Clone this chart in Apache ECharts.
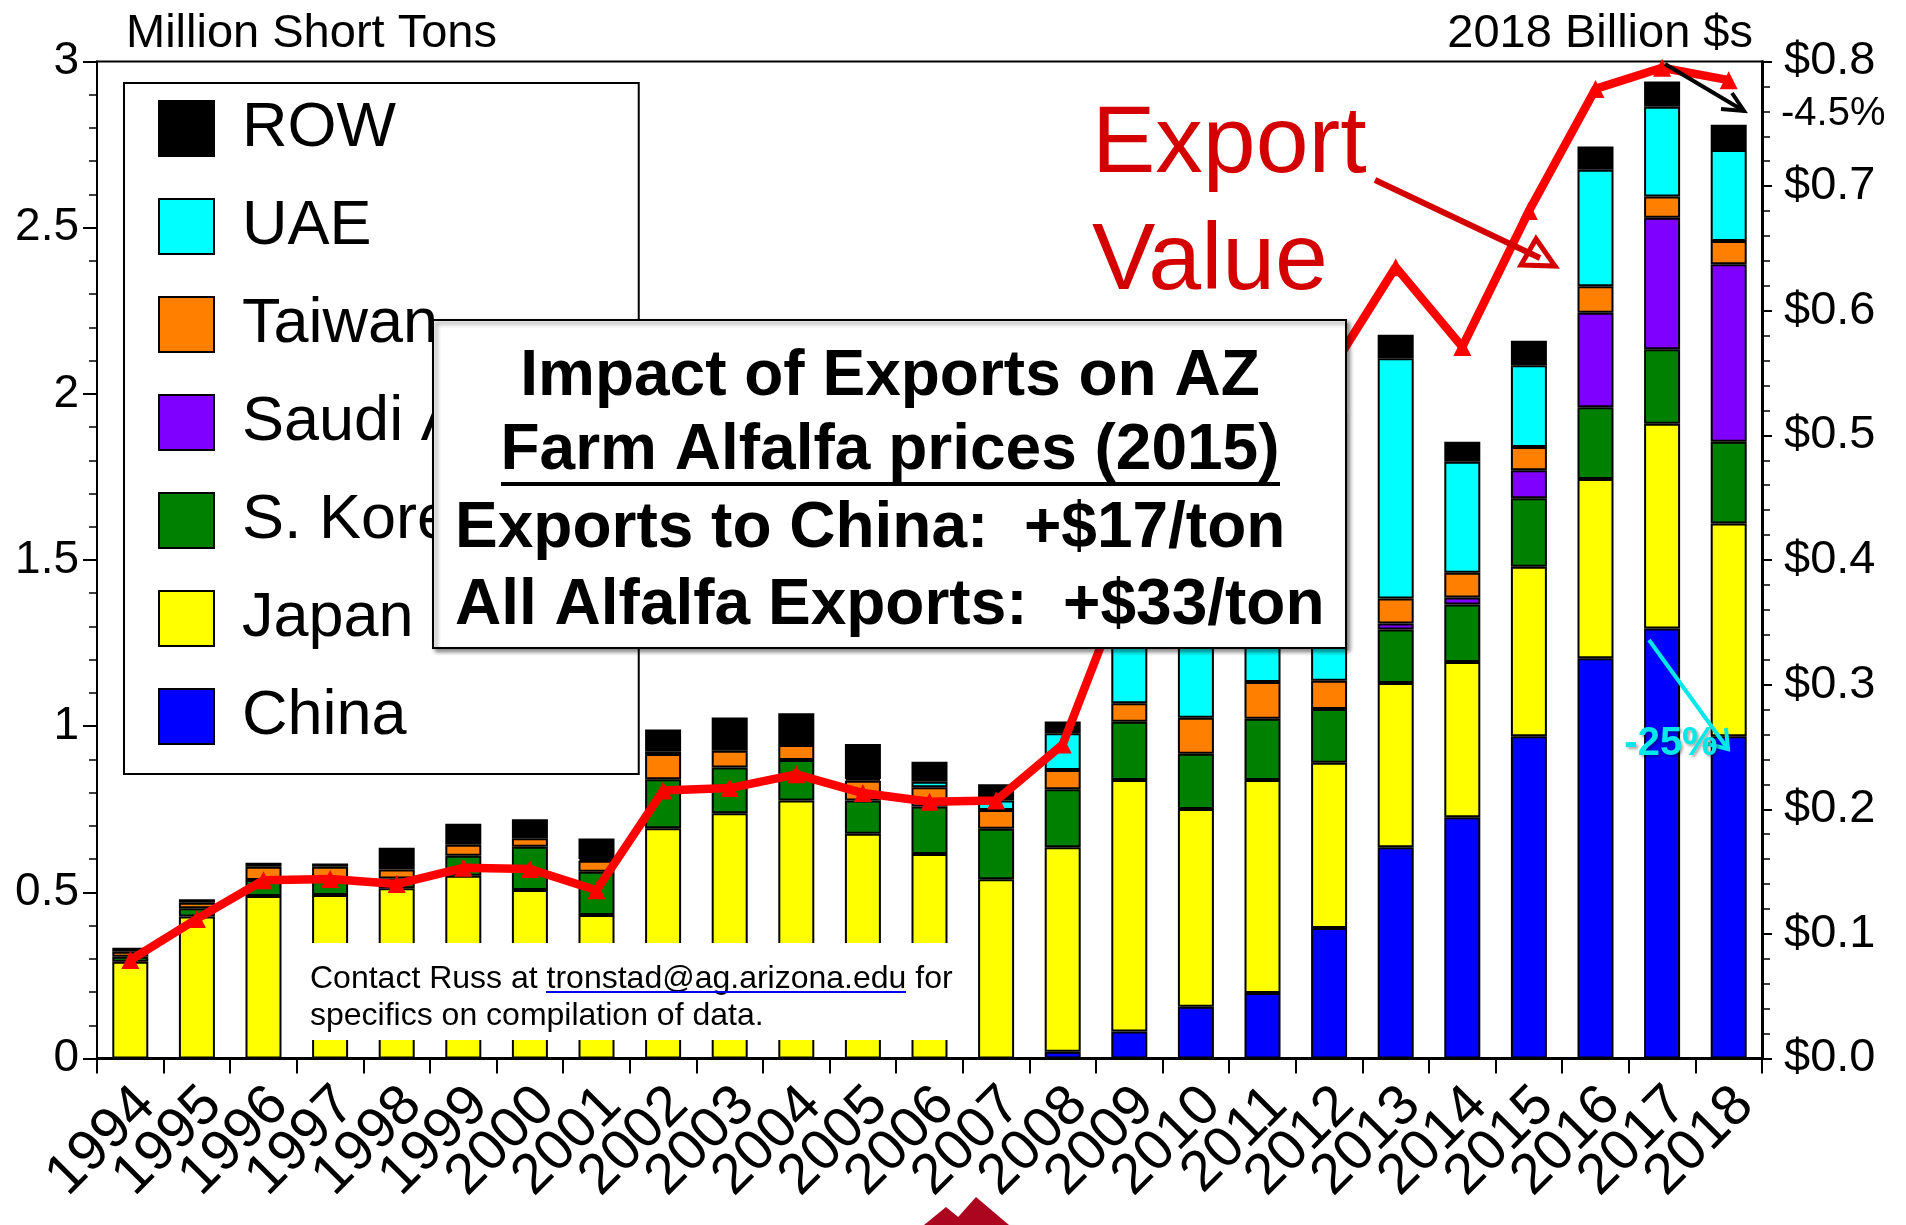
<!DOCTYPE html>
<html>
<head>
    <meta charset="utf-8">
    <script src="https://cdn.jsdelivr.net/npm/echarts@6/dist/echarts.min.js"></script>
    <style>
        body { margin: 0; background: #fff; }
    </style>
</head>
<body>
    <div id="main" style="width: 1906px;height:1225px"></div>

    <script type="text/javascript">
        // data (million short tons, stacked) + export value (2018 billion $)
        var years = ['1994','1995','1996','1997','1998','1999','2000','2001','2002','2003','2004','2005','2006',
                     '2007','2008','2009','2010','2011','2012','2013','2014','2015','2016','2017','2018'];
        var china  = [null,null,null,null,null,null,null,null,null,null,null,null,null,
                      null,0.02,0.081,0.156,0.197,0.393,0.636,0.726,0.97,1.204,1.294,0.97];
        var japan  = [0.291,0.427,0.489,0.492,0.512,0.55,0.507,0.432,0.693,0.738,0.776,0.676,0.615,
                      0.539,0.616,0.757,0.595,0.641,0.497,0.494,0.467,0.51,0.54,0.616,0.64];
        var korea  = [0.015,0.025,0.048,0.045,0.03,0.06,0.13,0.13,0.147,0.138,0.122,0.10,0.143,
                      0.152,0.174,0.175,0.166,0.184,0.162,0.161,0.173,0.206,0.216,0.224,0.246];
        var saudi  = [null,null,null,null,null,null,null,null,null,null,null,null,null,
                      null,null,null,null,null,null,0.018,0.021,0.084,0.284,0.396,0.534];
        var taiwan = [0.015,0.017,0.04,0.04,0.027,0.033,0.026,0.033,0.076,0.05,0.045,0.06,0.058,
                      0.057,0.058,0.056,0.108,0.111,0.085,0.075,0.075,0.07,0.08,0.064,0.07];
        var uae    = [null,null,null,null,null,null,null,0.005,0.007,null,null,0.005,0.017,
                      0.028,0.111,0.341,0.485,0.627,0.763,0.723,0.334,0.246,0.35,0.27,0.274];
        var row    = [0.012,0.01,0.012,0.01,0.065,0.063,0.057,0.062,0.067,0.1,0.096,0.105,0.06,
                      0.049,0.035,0.04,0.04,0.04,0.04,0.071,0.06,0.074,0.07,0.076,0.076];
        var exportValue = [0.079,0.112,0.143,0.144,0.14,0.153,0.152,0.135,0.215,0.217,0.228,0.213,0.206,
                           0.207,0.252,0.39,0.44,0.50,0.55,0.635,0.571,0.68,0.778,0.795,0.785];
        var leftTicks = [0, 3, 0.5];
        var rightTicks = [0, 0.8, 0.1];

        var FONT = 'Liberation Sans, Arial, Helvetica, sans-serif';

        var myChart = echarts.init(document.getElementById('main'));

        var barSeries = function (name, data, color) {
            return {
                name: name,
                type: 'bar',
                stack: 'tons',
                barWidth: 36,
                itemStyle: { color: color, borderColor: '#000', borderWidth: 2 },
                data: data
            };
        };

        var option = {
            animation: false,
            backgroundColor: '#fff',
            textStyle: { fontFamily: FONT },
            grid: {
                left: 97, right: 144, top: 61.5, bottom: 166.5,
                show: true, borderColor: '#000', borderWidth: 2
            },
            legend: {
                data: ['ROW','UAE','Taiwan','Saudi Arabia','S. Korea','Japan','China'],
                orient: 'vertical',
                left: 124, top: 83,
                padding: [14, 36, 26, 34],
                itemWidth: 55, itemHeight: 55, itemGap: 35,
                icon: 'rect',
                selectedMode: false,
                backgroundColor: '#fff',
                borderColor: '#000', borderWidth: 2,
                textStyle: { fontSize: 63, color: '#000', fontFamily: FONT, lineHeight: 55, padding: [0, 0, 0, 23] }
            },
            xAxis: {
                type: 'category',
                data: years,
                boundaryGap: true,
                axisLine: { lineStyle: { color: '#000', width: 3 } },
                axisTick: { show: true, length: 15, interval: 0, lineStyle: { color: '#000', width: 2 } },
                axisLabel: {
                    interval: 0, rotate: 45, margin: 22,
                    formatter: function (v) { return '{y|' + v + '}'; },
                    rich: { y: { fontSize: 57, color: '#000', fontFamily: FONT, padding: [45, 0, 0, 0] } }
                }
            },
            yAxis: [{
                type: 'value',
                min: leftTicks[0], max: leftTicks[1], interval: leftTicks[2],
                position: 'left',
                splitLine: { show: false },
                axisLine: { show: true, lineStyle: { color: '#000', width: 2 } },
                axisTick: { show: true, length: 14, lineStyle: { color: '#000', width: 2 } },
                minorTick: { show: true, splitNumber: 5, length: 8, lineStyle: { color: '#000', width: 1.5 } },
                axisLabel: { fontSize: 46, color: '#000', margin: 18, fontFamily: FONT }
            }, {
                type: 'value',
                min: rightTicks[0], max: rightTicks[1], interval: rightTicks[2],
                position: 'right',
                splitLine: { show: false },
                axisLine: { show: true, lineStyle: { color: '#000', width: 3 } },
                axisTick: { show: true, length: 10, lineStyle: { color: '#000', width: 2 } },
                minorTick: { show: true, splitNumber: 5, length: 8, lineStyle: { color: '#000', width: 1.5 } },
                axisLabel: {
                    fontSize: 47, color: '#000', margin: 22, fontFamily: FONT,
                    formatter: function (v) { return '$' + v.toFixed(1); }
                }
            }],
            series: [
                barSeries('China', china, '#0000ff'),
                barSeries('Japan', japan, '#ffff00'),
                barSeries('S. Korea', korea, '#008000'),
                barSeries('Saudi Arabia', saudi, '#8000ff'),
                barSeries('Taiwan', taiwan, '#ff8000'),
                barSeries('UAE', uae, '#00ffff'),
                barSeries('ROW', row, '#000000'),
                {
                    name: 'Export Value',
                    type: 'line',
                    yAxisIndex: 1,
                    z: 5,
                    symbol: 'triangle',
                    symbolSize: 18,
                    itemStyle: { color: '#ff0000' },
                    lineStyle: { color: '#ff0000', width: 8.5 },
                    data: exportValue
                }
            ],
            graphic: { elements: [
                // axis titles
                { type: 'text', x: 126, y: 34, z: 100,
                  style: { text: 'Million Short Tons', font: '47px ' + FONT, fill: '#000', verticalAlign: 'middle' } },
                { type: 'text', x: 1753, y: 34, z: 100,
                  style: { text: '2018 Billion $s', font: '47px ' + FONT, fill: '#000', align: 'right', verticalAlign: 'middle' } },

                // impact box
                { type: 'rect', z: 100,
                  shape: { x: 433, y: 320, width: 913, height: 328 },
                  style: { fill: '#fff', stroke: '#000', lineWidth: 2,
                           shadowBlur: 4, shadowOffsetX: 3, shadowOffsetY: 3, shadowColor: 'rgba(0,0,0,0.45)' } },
                { type: 'text', x: 890, y: 377, z: 101,
                  style: { text: 'Impact of Exports on AZ', font: 'bold 64px ' + FONT, fill: '#000', align: 'center', verticalAlign: 'middle' } },
                { type: 'text', x: 890, y: 451, z: 101,
                  style: { text: 'Farm Alfalfa prices (2015)', font: 'bold 64px ' + FONT, fill: '#000', align: 'center', verticalAlign: 'middle' } },
                { type: 'line', z: 101,
                  shape: { x1: 501, y1: 484, x2: 1280, y2: 484 },
                  style: { stroke: '#000', lineWidth: 4 } },
                { type: 'text', x: 455, y: 529, z: 101,
                  style: { text: 'Exports to China:  +$17/ton', font: 'bold 64px ' + FONT, fill: '#000', verticalAlign: 'middle' } },
                { type: 'text', x: 455, y: 606, z: 101,
                  style: { text: 'All Alfalfa Exports:  +$33/ton', font: 'bold 64px ' + FONT, fill: '#000', verticalAlign: 'middle' } },

                // contact note
                { type: 'rect', z: 100,
                  shape: { x: 298, y: 943, width: 667, height: 97 },
                  style: { fill: '#fff' } },
                { type: 'text', x: 310, y: 979, z: 101,
                  style: { text: '{a|Contact Russ at }{b|tronstad@ag.arizona.edu}{a| for}',
                           verticalAlign: 'middle',
                           rich: { a: { fontSize: 32, fontFamily: FONT, color: '#000' },
                                   b: { fontSize: 32, fontFamily: FONT, color: '#0000ee' } } } },
                { type: 'line', z: 101,
                  shape: { x1: 546, y1: 992, x2: 906, y2: 992 },
                  style: { stroke: '#0000ee', lineWidth: 2 } },
                { type: 'text', x: 310, y: 1016, z: 101,
                  style: { text: 'specifics on compilation of data.', font: '32px ' + FONT, fill: '#000', verticalAlign: 'middle' } },

                // export value callout
                { type: 'text', x: 1092, y: 146, z: 100,
                  style: { text: 'Export', font: '95px ' + FONT, fill: '#d40000', verticalAlign: 'middle' } },
                { type: 'text', x: 1092, y: 263, z: 100,
                  style: { text: 'Value', font: '95px ' + FONT, fill: '#d40000', verticalAlign: 'middle' } },
                { type: 'line', z: 100,
                  shape: { x1: 1375, y1: 180, x2: 1540, y2: 258 },
                  style: { stroke: '#d40000', lineWidth: 6 } },
                { type: 'polygon', z: 100,
                  shape: { points: [[1521, 265], [1555, 266], [1536, 239]] },
                  style: { fill: 'none', stroke: '#d40000', lineWidth: 5 } },

                // -4.5% arrow
                { type: 'polyline', z: 100,
                  shape: { points: [[1665, 64], [1744, 111]] },
                  style: { stroke: '#000', lineWidth: 4 } },
                { type: 'polyline', z: 100,
                  shape: { points: [[1721, 109], [1744, 111], [1732, 93]] },
                  style: { stroke: '#000', lineWidth: 4, fill: 'none' } },
                { type: 'text', x: 1781, y: 114, z: 100,
                  style: { text: '-4.5%', font: '40px ' + FONT, fill: '#000', verticalAlign: 'middle' } },

                // -25% arrow
                { type: 'polyline', z: 100,
                  shape: { points: [[1649, 640], [1728, 749]] },
                  style: { stroke: '#00e8e8', lineWidth: 4 } },
                { type: 'polyline', z: 100,
                  shape: { points: [[1708, 744], [1728, 749], [1726, 728]] },
                  style: { stroke: '#00e8e8', lineWidth: 4, fill: 'none' } },
                { type: 'text', x: 1671, y: 744, z: 100,
                  style: { text: '-25%', font: 'bold 40px ' + FONT, fill: '#00e8e8', align: 'center', verticalAlign: 'middle',
                           textShadowBlur: 3, textShadowColor: 'rgba(0,0,0,0.35)', textShadowOffsetX: 2, textShadowOffsetY: 2 } },

                // logo peeking at the bottom
                { type: 'polygon', z: 100,
                  shape: { points: [[924, 1225], [946, 1207], [968, 1225]] },
                  style: { fill: '#ab0520' } },
                { type: 'polygon', z: 100,
                  shape: { points: [[951, 1225], [976, 1197], [1009, 1225]] },
                  style: { fill: '#ab0520' } }
            ] }
        };

        myChart.setOption(option);
    </script>
</body>
</html>
